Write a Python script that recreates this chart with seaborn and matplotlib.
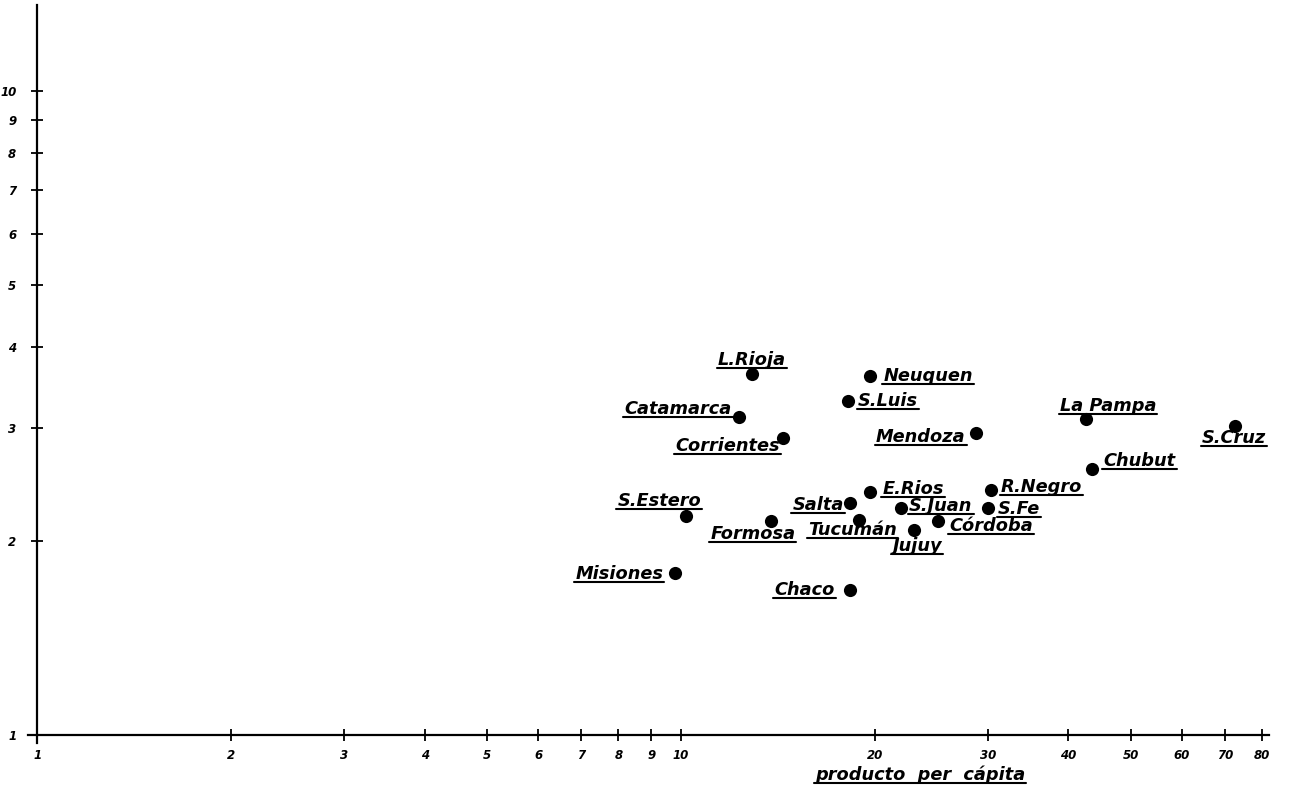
import numpy as np
import pandas as pd
import seaborn as sns
import matplotlib
matplotlib.use("Agg")
import matplotlib.pyplot as plt
from matplotlib.lines import Line2D

# Provincias argentinas: producto per cápita (eje x) contra el indicador (eje y)
provincias = ["L.Rioja", "Neuquen", "S.Luis", "Catamarca", "Corrientes", "Mendoza",
              "La Pampa", "S.Cruz", "Chubut", "E.Rios", "R.Negro", "Salta", "S.Juan",
              "S.Fe", "Tucumán", "Córdoba", "Jujuy", "S.Estero", "Formosa",
              "Misiones", "Chaco"]
producto = [12.9, 19.7, 18.2, 12.3, 14.4, 28.7, 42.6, 72.6, 43.6, 19.7, 30.3, 18.3,
            22.0, 30.0, 18.9, 25.1, 23.0, 10.2, 13.8, 9.8, 18.3]
indicador = [3.63, 3.61, 3.30, 3.12, 2.89, 2.94, 3.09, 3.02, 2.59, 2.38, 2.40, 2.29,
             2.25, 2.25, 2.16, 2.15, 2.08, 2.19, 2.15, 1.785, 1.68]

x_ticks = [1, 2, 3, 4, 5, 6, 7, 8, 9, 10, 20, 30, 40, 50, 60, 70, 80]
y_ticks = [1, 2, 3, 4, 5, 6, 7, 8, 9, 10]

# desplazamiento de cada rótulo respecto de su punto (píxeles) y alineación
rotulos = {
    "L.Rioja": (0, 14, "center"), "Neuquen": (13, 0, "left"), "S.Luis": (10, 0, "left"),
    "Catamarca": (-7, 8, "right"), "Corrientes": (-3, -8, "right"),
    "Mendoza": (-10, -4, "right"), "La Pampa": (-26, 13, "left"),
    "S.Cruz": (-1, -12, "center"), "Chubut": (11, 8, "left"), "E.Rios": (12, 3, "left"),
    "R.Negro": (10, 3, "left"), "Salta": (-6, -2, "right"), "S.Juan": (8, 2, "left"),
    "S.Fe": (10, -1, "left"), "Tucumán": (-6, -10, "center"),
    "Córdoba": (11, -5, "left"), "Jujuy": (4, -16, "center"),
    "S.Estero": (-27, 15, "center"), "Formosa": (-18, -13, "center"),
    "Misiones": (-12, -1, "right"), "Chaco": (-15, 0, "right"),
}

df = pd.DataFrame({"provincia": provincias, "producto": producto, "indicador": indicador})

sns.set_style("white")
plt.rcParams["font.family"] = ["DejaVu Sans"]

fig = plt.figure(figsize=(12.92, 7.94), dpi=100)
ax = fig.add_axes([28 / 1292, 51 / 794, 1241 / 1292, 738 / 794])

sns.scatterplot(data=df, x="producto", y="indicador", ax=ax, color="black",
                s=90, edgecolor="black", linewidth=0, legend=False, zorder=3)

ax.set_xscale("log")
ax.set_yscale("log")
ax.set_xlim(0.968, 82)
ax.set_ylim(0.972, 13.58)
ax.set_xlabel("")
ax.set_ylabel("")

for side in ("top", "right"):
    ax.spines[side].set_visible(False)
for side in ("left", "bottom"):
    ax.spines[side].set_color("black")
    ax.spines[side].set_linewidth(1.6)
ax.spines["left"].set_position(("data", 1))
ax.spines["bottom"].set_position(("data", 1))

ax.xaxis.set_minor_locator(matplotlib.ticker.NullLocator())
ax.yaxis.set_minor_locator(matplotlib.ticker.NullLocator())
ax.set_xticks(x_ticks)
ax.set_xticklabels([str(t) for t in x_ticks])
ax.set_yticks(y_ticks)
ax.set_yticklabels([str(t) for t in y_ticks])
ax.tick_params(axis="both", which="major", bottom=True, left=True, direction="inout",
               length=8, width=1.3, color="black", labelsize=8.5, labelcolor="black")
ax.tick_params(axis="x", pad=6)
ax.tick_params(axis="y", pad=11)
for lab in ax.get_xticklabels() + ax.get_yticklabels():
    lab.set_fontweight("bold")
    lab.set_fontstyle("italic")

textos = []
for prov, xv, yv in zip(provincias, producto, indicador):
    dx, dy, ha = rotulos[prov]
    t = ax.annotate(prov, (xv, yv), xytext=(dx, dy), textcoords="offset pixels",
                    ha=ha, va="center", fontsize=12.8, fontweight="bold",
                    fontstyle="italic", color="black")
    textos.append(t)

titulo = fig.text(920 / 1292, 1 - 775 / 794, "producto  per  cápita", ha="center",
                  va="center", fontsize=12.8, fontweight="bold", fontstyle="italic",
                  color="black")
textos.append(titulo)

# subrayado bajo cada rótulo, como en el dibujo a mano
fig.canvas.draw()
renderer = fig.canvas.get_renderer()
inv = fig.transFigure.inverted()
for t in textos:
    bb = t.get_window_extent(renderer)
    (x0, y0), (x1, _) = inv.transform([(bb.x0 - 1, bb.y0 + 1), (bb.x1 + 1, bb.y0 + 1)])
    fig.add_artist(Line2D([x0, x1], [y0, y0], transform=fig.transFigure,
                          color="black", linewidth=1.5))

fig.savefig("out.png", dpi=100, facecolor="white")
